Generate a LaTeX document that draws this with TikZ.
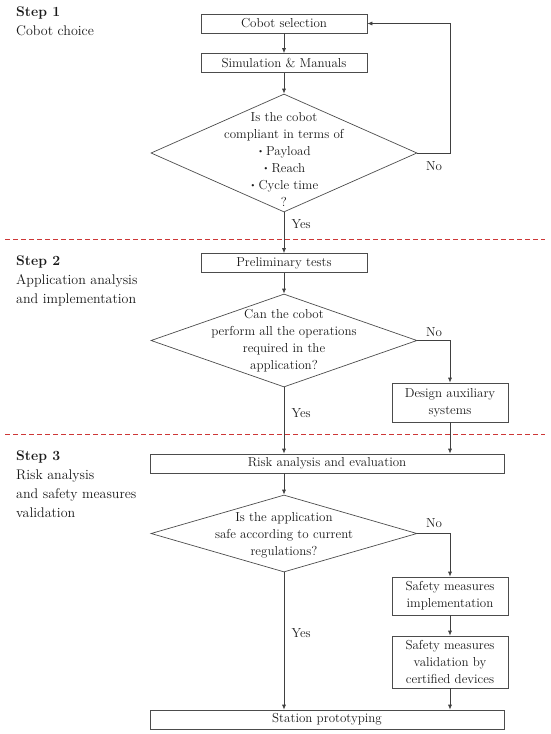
\documentclass[tikz,border=0pt]{standalone}
\usepackage{tikz}
\usetikzlibrary{shapes.geometric,arrows.meta}
\definecolor{seprule}{RGB}{205,55,55}
\newcommand{\dotitem}{\raisebox{0.2ex}{\fontsize{8}{8}\selectfont\textbullet}\,}

\begin{document}
\begin{tikzpicture}[x=1pt, y=-1pt,
            every node/.style = {font=\fontsize{13}{17}\selectfont, text=black!90},
            box/.style = {shape=rectangle, draw=black!70, line width=0.7pt,
                    align=center, inner sep=1pt,
                    minimum width=166pt, minimum height=19pt},
            widebox/.style = {box, minimum width=354pt},
            sidebox/.style = {box, minimum width=116pt},
            decision/.style = {shape=diamond, draw=black!70, line width=0.7pt,
                    inner sep=0pt, minimum width=266pt},
            steptext/.style = {anchor=north west, align=left, inner sep=0pt,
                    font=\fontsize{14}{19}\selectfont},
            link/.style = {draw=black!75, line width=0.7pt, -{Latex[length=5pt,width=4pt]}},
            sep/.style = {draw=seprule, line width=0.9pt, dash pattern=on 5pt off 3pt}]
        \useasboundingbox (0,0) rectangle (550,734);
        % steps
        \node[steptext] (step1) at (16,7) {\textbf{Step 1}\\Cobot choice};
        \node[steptext] (step2) at (16,256) {\textbf{Step 2}\\Application analysis\\and implementation};
        \node[steptext] (step3) at (16,451) {\textbf{Step 3}\\Risk analysis\\and safety measures\\validation};
        \draw[sep] (5,239.5) -- (545,239.5);
        \draw[sep] (5,434.5) -- (545,434.5);
        % step 1
        \node[box] (cobot) at (284,23.5) {Cobot selection};
        \node[box] (sim) at (284,63) {Simulation \& Manuals};
        \node[decision, minimum height=118pt] (d1) at (284,153) {};
        \node[align=center] (q1) at (284,159) {Is the cobot\\compliant in terms of\\\dotitem Payload\\\dotitem Reach\\\dotitem Cycle time\\?};
        % step 2
        \node[box] (prelim) at (284,263) {Preliminary tests};
        \node[decision, minimum height=93pt] (d2) at (284,340.5) {};
        \node[align=center] (q2) at (284,341) {Can the cobot\\perform all the operations\\required in the\\application?};
        \node[sidebox, minimum height=39pt] (aux) at (450,402.5) {Design auxiliary\\systems};
        % step 3
        \node[widebox] (risk) at (327,463.5) {Risk analysis and evaluation};
        \node[decision, minimum height=77pt] (d3) at (284,533.5) {};
        \node[align=center] (q3) at (284,535) {Is the application\\safe according to current\\regulations?};
        \node[sidebox, minimum height=38pt] (impl) at (450,596) {Safety measures\\implementation};
        \node[sidebox, minimum height=52pt] (valid) at (450,662) {Safety measures\\validation by\\certified devices};
        \node[widebox] (proto) at (327,719.5) {Station prototyping};
        % answers
        \node (no1) at (434,166) {No};
        \node (no2) at (434,332) {No};
        \node (no3) at (434,523) {No};
        \node[anchor=west] (yes1) at (288,224) {Yes};
        \node[anchor=west] (yes2) at (288,413) {Yes};
        \node[anchor=west] (yes3) at (288,633) {Yes};
        % links
        \draw[link] (cobot) -- (sim);
        \draw[link] (sim) -- (d1.north);
        \draw[link] (d1.east) -- ++(33,0) |- (cobot.east);
        \draw[link] (d1.south) -- (prelim);
        \draw[link] (prelim) -- (d2.north);
        \draw[link] (d2.east) -| (aux.north);
        \draw[link] (d2.south) -- (d2.south |- risk.north);
        \draw[link] (aux.south) -- (aux.south |- risk.north);
        \draw[link] (d3.north |- risk.south) -- (d3.north);
        \draw[link] (d3.east) -| (impl.north);
        \draw[link] (impl) -- (valid);
        \draw[link] (d3.south) -- (d3.south |- proto.north);
        \draw[link] (valid.south) -- (valid.south |- proto.north);
    \end{tikzpicture}
\end{document}
